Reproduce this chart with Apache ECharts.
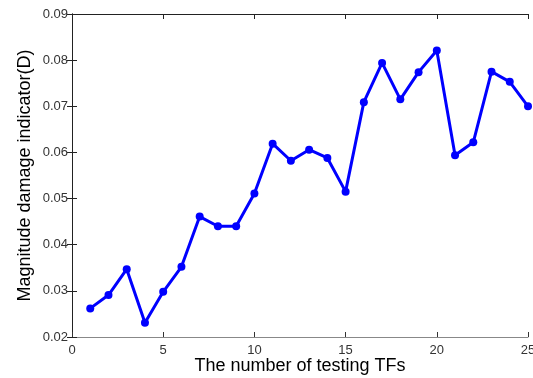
<!DOCTYPE html>
<html>
<head>
<meta charset="utf-8">
<script src="https://cdn.jsdelivr.net/npm/echarts@6/dist/echarts.min.js"></script>
<style>
html,body{margin:0;padding:0;background:#fff;}
#chart{width:533px;height:378px;}
</style>
</head>
<body>
<div id="chart"></div>
<script>
// Number of testing TFs and the corresponding damage indicator D
const tfCounts = [1,2,3,4,5,6,7,8,9,10,11,12,13,14,15,16,17,18,19,20,21,22,23,24,25];
const damageD = [0.0262,0.0291,0.0347,0.0231,0.0298,0.0352,0.0461,0.0440,0.0440,0.0511,
                 0.0619,0.0582,0.0606,0.0588,0.0515,0.0709,0.0794,0.0715,0.0774,0.0821,
                 0.0594,0.0622,0.0775,0.0753,0.0700];
const xTicks = [0,5,10,15,20,25];
const yTicks = [0.02,0.03,0.04,0.05,0.06,0.07,0.08,0.09];

const chart = echarts.init(document.getElementById('chart'));
const fontFam = 'Liberation Sans, Arial, sans-serif';
const tickFont = {fontFamily:fontFam, fontSize:13, color:'#333'};

chart.setOption({
  animation:false,
  grid:{left:72, top:14, right:5, bottom:41, outerBoundsMode:'none', containLabel:false},
  xAxis:[{
    type:'value', min:xTicks[0], max:xTicks[xTicks.length-1], interval:5,
    name:'The number of testing TFs', nameLocation:'middle', nameGap:20,
    nameMoveOverlap:false,
    nameTextStyle:{fontFamily:fontFam, fontSize:18, color:'#000'},
    axisLine:{lineStyle:{color:'#888', width:1}},
    axisTick:{inside:true, length:5, lineStyle:{color:'#333'}},
    axisLabel:Object.assign({margin:7, hideOverlap:false}, tickFont),
    splitLine:{show:false}
  },{
    type:'value', position:'top', min:xTicks[0], max:xTicks[xTicks.length-1], interval:5,
    axisLine:{show:true, lineStyle:{color:'#222'}},
    axisTick:{inside:true, length:5, lineStyle:{color:'#222'}},
    axisLabel:{show:false}, splitLine:{show:false}
  }],
  yAxis:[{
    type:'value', min:yTicks[0], max:yTicks[yTicks.length-1], interval:0.01,
    name:'Magnitude damage indicator(D)', nameLocation:'middle', nameGap:38,
    nameMoveOverlap:false,
    nameTextStyle:{fontFamily:fontFam, fontSize:18, color:'#000'},
    axisLine:{show:true, lineStyle:{color:'#222'}},
    axisTick:{inside:true, length:5, lineStyle:{color:'#222'}},
    axisLabel:Object.assign({margin:4, formatter:v=>v.toFixed(2)}, tickFont),
    splitLine:{show:false}
  },{
    type:'value', position:'right', min:yTicks[0], max:yTicks[yTicks.length-1], interval:0.01,
    axisLine:{show:true, lineStyle:{color:'#222'}},
    axisTick:{inside:true, length:5, lineStyle:{color:'#222'}},
    axisLabel:{show:false}, splitLine:{show:false}
  }],
  series:[{
    type:'line',
    data:tfCounts.map((n,i)=>[n, damageD[i]]),
    lineStyle:{color:'#0000ff', width:3},
    itemStyle:{color:'#0000ff'},
    symbol:'circle', symbolSize:8,
    clip:false
  }]
});
</script>
</body>
</html>
